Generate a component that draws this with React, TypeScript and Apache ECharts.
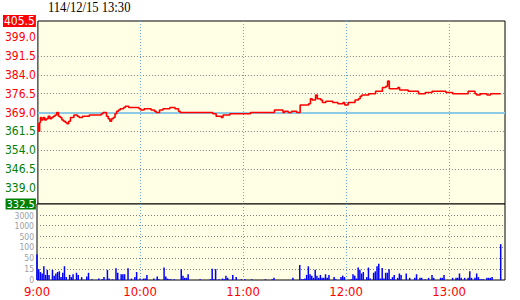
import React, { useEffect, useRef } from "react";
import * as echarts from "echarts";

const titleText = "114/12/15 13:30";
const refPrice = 369.0;
const priceMin = 332.5;
const priceMax = 405.5;
const priceGridValues = [339.0, 346.5, 354.0, 361.5, 376.5, 384.0, 391.5, 399.0];
const priceLabelValues = [332.5, 339.0, 346.5, 354.0, 361.5, 369.0, 376.5, 384.0, 391.5, 399.0, 405.5];
const timeMin = 0;
const timeMax = 272.5;
const timeInterval = 60;
const volumeLevels = [0, 15, 50, 100, 500, 1000, 3000];

// minutes after 9:00
const priceMinutes = [
  0, 0.5, 1, 1.5, 2, 3, 4, 5, 6, 7, 8, 9, 10, 11, 12, 13, 14, 15, 16, 17, 18, 19, 21, 23, 24, 26, 28, 30, 32, 35,
  37, 38, 40, 41, 42, 43, 44, 45, 46, 47, 48, 50, 51, 53, 55, 57, 59, 60, 62, 64, 66, 68, 69, 71, 73, 75, 77, 80, 82, 83,
  86, 89, 92, 95, 98, 101, 102, 104, 105, 107, 108, 110, 112, 115, 118, 121, 123, 124, 127, 130, 133, 136, 138, 141, 143, 144, 146, 148, 151, 153,
  156, 158, 159, 160, 162, 163, 165, 166, 168, 171, 172, 175, 177, 178, 179, 181, 184, 185, 187, 188, 189, 191, 193, 195, 197, 199, 200, 201, 203, 204,
  205, 207, 209, 210, 211, 214, 216, 218, 220, 222, 224, 226, 229, 230, 233, 237, 238, 240, 242, 246, 250, 251, 254, 255, 256, 258, 260, 262, 264, 267, 270,
];
const priceValues = [
  364.5, 361.5, 365, 367, 366, 367, 366, 366.5, 367.5, 366.5, 367, 367.5, 368, 369, 367.5, 367, 366, 365.5, 365, 364.5, 365.5, 367, 368, 367.5, 367, 367.5, 367.5, 368, 368, 368,
  368.5, 369, 367.5, 366.5, 365.5, 366.5, 367, 368.5, 369.5, 370, 370.5, 371, 371.5, 371, 371, 371, 370.5, 370, 370.5, 370.5, 370, 369.5, 369, 370, 370.5, 370.5, 371, 370.5, 369.5, 369,
  369, 369, 369, 369, 369, 369, 368.5, 367.5, 367.5, 367, 368, 368, 368.5, 368.5, 368.5, 368.5, 368.5, 369, 369, 369, 369, 369, 370, 370, 369, 369.5, 369, 369.5, 369, 372,
  372, 372.5, 374.5, 374, 376, 374.5, 374, 373, 373.5, 373.5, 373, 372.5, 372.5, 373, 372, 373, 373, 374, 374.5, 375.5, 376, 376, 376.5, 376.5, 377.5, 377.5, 377.5, 379, 379.5, 381.5,
  378.5, 378.5, 378.5, 379, 378, 378, 377.5, 377.5, 377.5, 376.5, 376.5, 377, 377, 377.5, 377.5, 377.5, 377, 377, 376.5, 376.5, 376.5, 377.5, 377.5, 376.5, 376, 376.5, 376.5, 376, 376.5, 376.5, 376.5,
];

const volumeMinutes = [
  0, 1, 2, 3, 4, 5, 6, 7, 9, 10, 11, 12, 13, 14, 15, 16, 17, 19, 20, 21, 23, 24, 26, 29, 30, 32, 36, 38, 39, 41,
  42, 44, 46, 47, 49, 50, 51, 53, 55, 57, 58, 60, 62, 63, 64, 68, 70, 71, 74, 75, 76, 77, 78, 80, 84, 85, 86, 87, 88, 95,
  101, 102, 103, 104, 106, 108, 109, 110, 111, 114, 116, 119, 121, 125, 133, 137, 138, 149, 153, 154, 155, 156, 157, 158, 159, 160, 161, 162, 163, 164,
  165, 166, 167, 168, 169, 170, 173, 174, 177, 178, 179, 183, 184, 185, 186, 187, 188, 189, 190, 192, 193, 194, 196, 197, 198, 199, 200, 201, 202, 203,
  204, 205, 206, 207, 208, 210, 211, 212, 215, 217, 220, 221, 223, 224, 226, 228, 230, 231, 235, 236, 237, 242, 244, 245, 246, 247, 249, 251, 252, 253,
  255, 256, 257, 258, 259, 260, 262, 263, 264, 265, 270,
];
const volumeValues = [
  68, 15, 11, 9, 24, 7, 14, 7, 14, 6, 9, 11, 12, 4, 10, 24, 4, 7, 4, 8, 10, 7, 4, 5, 10, 1, 2, 1, 4, 14,
  2, 1, 18, 10, 8, 8, 8, 18, 2, 4, 11, 2, 2, 2, 7, 2, 5, 1, 20, 5, 2, 1, 1, 1, 15, 6, 3, 3, 8, 1,
  1, 16, 1, 15, 1, 2, 1, 6, 3, 7, 4, 1, 1, 1, 1, 1, 3, 3, 28, 1, 1, 2, 7, 24, 8, 6, 3, 14, 6, 3,
  7, 3, 3, 8, 3, 7, 4, 1, 4, 6, 4, 1, 8, 6, 2, 20, 14, 9, 11, 4, 20, 2, 10, 12, 24, 32, 2, 19, 2, 10,
  10, 15, 1, 4, 7, 3, 9, 7, 9, 3, 3, 8, 3, 3, 1, 3, 7, 3, 3, 3, 7, 3, 3, 3, 9, 3, 3, 3, 12, 3,
  3, 9, 4, 1, 1, 1, 3, 3, 3, 4, 220,
];

const FONT = '"Liberation Sans Narrow", "DejaVu Sans Condensed", "Liberation Sans", sans-serif';

function volumeToLevel(v: number): number {
  for (let i = 0; i < volumeLevels.length - 1; i++) {
    if (v < volumeLevels[i + 1]) {
      return i + (v - volumeLevels[i]) / (volumeLevels[i + 1] - volumeLevels[i]);
    }
  }
  return volumeLevels.length - 1;
}

function minuteLabel(m: number): string {
  const total = 9 * 60 + Math.round(m);
  const h = Math.floor(total / 60);
  const mm = total % 60;
  return `${h}:${mm < 10 ? "0" + mm : mm}`;
}

export default function App() {
  const ref = useRef<HTMLDivElement>(null);
  useEffect(() => {
    if (!ref.current) return;
    const chart = echarts.init(ref.current, null, { renderer: "svg" });
    const priceData = priceMinutes.map((m, i) => [m, priceValues[i]]);
    const volumeData = volumeMinutes.map((m, i) => [m, volumeToLevel(volumeValues[i])]);
    const dotted = [1, 2];
    const vGrid = { show: true, showMinLine: false, showMaxLine: false, lineStyle: { color: "#6aa6dc", type: dotted, width: 1 } };
    const hGrid = { show: true, showMinLine: false, showMaxLine: false, lineStyle: { color: "#808080", type: dotted, width: 1 } };
    const volTop = volumeLevels.length - 1;
    chart.setOption({
      animation: false,
      backgroundColor: "#ffffff",
      graphic: [
        {
          type: "text",
          x: 48,
          y: 0,
          scaleX: 0.84,
          style: { text: titleText, font: '15px "Liberation Serif", serif', fill: "#000000" },
        },
      ],
      grid: [
        { left: 37, top: 21, width: 468, height: 183, show: true, backgroundColor: "#ffffe6", borderColor: "#000000", borderWidth: 1 },
        { left: 37, top: 204, width: 468, height: 76, show: true, backgroundColor: "#ffffe6", borderColor: "#000000", borderWidth: 1 },
      ],
      xAxis: [
        {
          gridIndex: 0,
          type: "value",
          min: timeMin,
          max: timeMax,
          interval: timeInterval,
          axisLine: { show: false },
          axisTick: { show: false },
          axisLabel: { show: false },
          splitLine: vGrid,
        },
        {
          gridIndex: 1,
          type: "value",
          min: timeMin,
          max: timeMax,
          interval: timeInterval,
          axisLine: { show: false },
          axisTick: { show: false },
          axisLabel: {
            show: true,
            showMaxLabel: false,
            color: "#ff0000",
            fontFamily: FONT,
            fontSize: 13,
            margin: 5,
            formatter: (v: number) => minuteLabel(v),
          },
          splitLine: vGrid,
        },
      ],
      yAxis: [
        {
          gridIndex: 0,
          type: "value",
          min: priceMin,
          max: priceMax,
          axisLine: { show: false },
          axisTick: { show: false, customValues: priceGridValues },
          axisLabel: {
            customValues: priceLabelValues,
            margin: 2,
            fontFamily: FONT,
            fontSize: 12,
            lineHeight: 12,
            formatter: (v: number) => {
              const s = v.toFixed(1);
              if (v === priceMax) return `{up|${s}}`;
              if (v === priceMin) return `{dn|${s}}`;
              return v >= refPrice ? `{r|${s}}` : `{g|${s}}`;
            },
            rich: {
              up: { color: "#ffffff", backgroundColor: "#ff0000", padding: [0, 1, 0, 1], lineHeight: 11, fontFamily: FONT, fontSize: 12 },
              dn: { color: "#ffffff", backgroundColor: "#008000", padding: [0, 1, 0, 1], lineHeight: 10, fontFamily: FONT, fontSize: 11 },
              r: { color: "#ff0000", fontFamily: FONT, fontSize: 12, lineHeight: 12 },
              g: { color: "#008000", fontFamily: FONT, fontSize: 12, lineHeight: 12 },
            },
          },
          splitLine: hGrid,
        },
        {
          gridIndex: 1,
          type: "value",
          min: 0,
          max: 7,
          interval: 1,
          axisLine: { show: false },
          axisTick: { show: false },
          axisLabel: {
            margin: 3,
            color: "#9aa0aa",
            fontFamily: FONT,
            fontSize: 8.5,
            lineHeight: 8,
            formatter: (v: number) =>
              v === volTop ? `{t|${volumeLevels[v]}}` : v < volumeLevels.length ? String(volumeLevels[v]) : "",
            rich: {
              t: { color: "#9aa0aa", fontFamily: FONT, fontSize: 8.5, lineHeight: 8, padding: [3, 0, 0, 0] },
            },
          },
          splitLine: hGrid,
        },
      ],
      series: [
        {
          type: "line",
          xAxisIndex: 0,
          yAxisIndex: 0,
          data: priceData,
          step: "end",
          showSymbol: false,
          lineStyle: { color: "#ff0000", width: 1.6 },
          z: 5,
          markLine: {
            silent: true,
            symbol: "none",
            label: { show: false },
            lineStyle: { color: "#8ecae6", type: "solid", width: 2 },
            data: [{ yAxis: refPrice }],
            z: 3,
          },
        },
        {
          type: "bar",
          xAxisIndex: 1,
          yAxisIndex: 1,
          data: volumeData,
          barWidth: 1.5,
          itemStyle: { color: "#0000ff" },
        },
      ],
    });
    return () => chart.dispose();
  }, []);
  return <div ref={ref} style={{ width: 520, height: 300, position: "absolute", left: 0, top: 0 }} />;
}
